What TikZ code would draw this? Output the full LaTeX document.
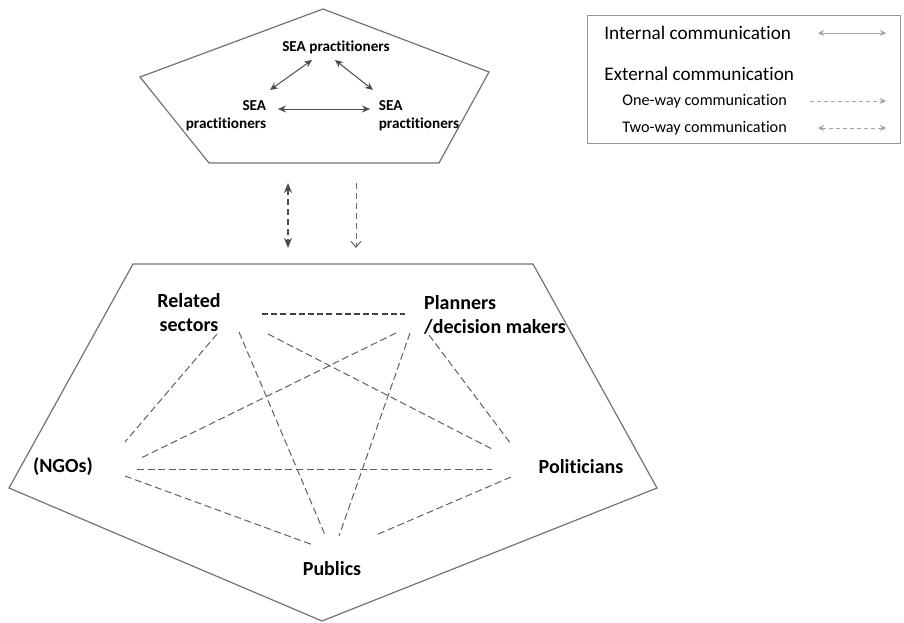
\documentclass[tikz,border=0pt]{standalone}
\usepackage{fontspec}
\setmainfont{Carlito}[Ligatures=NoCommon]
\usepackage{tikz}
\usetikzlibrary{arrows.meta}

\definecolor{edgegray}{RGB}{95,95,95}
\definecolor{framegray}{RGB}{115,115,115}
\definecolor{keygray}{RGB}{165,165,165}

\tikzset{
  frame/.style={draw=framegray, line width=0.6pt},
  actor/.style={font=\fontsize{10}{12}\selectfont\bfseries, inner sep=0pt, align=center},
  seanode/.style={font=\fontsize{7.6}{9}\selectfont\bfseries, inner sep=0pt},
  keytext/.style={font=\fontsize{9.6}{12}\selectfont, inner sep=0pt, anchor=west},
  subtext/.style={font=\fontsize{8.1}{10}\selectfont, inner sep=0pt, anchor=west},
  link/.style={draw=edgegray, line width=0.5pt, dash pattern=on 3.5pt off 1.8pt},
  intarrow/.style={draw=black!70, line width=0.5pt,
    {Stealth[length=4pt,width=3.5pt]}-{Stealth[length=4pt,width=3.5pt]}},
  keyarrow/.style={draw=keygray, line width=0.5pt}
}

\begin{document}
\begin{tikzpicture}[x=0.5pt, y=-0.5pt]
    \useasboundingbox (0,0) rectangle (904,622);

    % draw the two pentagons
    \draw[frame] (323,9) -- (489,72) -- (439,163) -- (209,163) -- (140,77) -- cycle;
    \draw[frame] (133,264) -- (533,264) -- (657,488) -- (322,621) -- (9,488) -- cycle;

    % SEA practitioners in the upper pentagon
    \node[seanode] (seatop) at (336,47) {SEA practitioners};
    \node[seanode, align=right] (sealeft) at (226,116) {SEA\\practitioners};
    \node[seanode, align=left] (searight) at (419,116) {SEA\\practitioners};

    \draw[intarrow] ([shift={(-24,13)}]seatop.center) -- ([shift={(44,-26)}]sealeft.center);
    \draw[intarrow] ([shift={(-1,13)}]seatop.center) -- ([shift={(-46,-26)}]searight.center);
    \draw[intarrow] ([shift={(52,-7)}]sealeft.center) -- ([shift={(-49,-7)}]searight.center);

    % communication between the two groups
    \coordinate (upa) at (288,183);
    \coordinate (downa) at (288,248);
    \coordinate (upb) at (356,183);
    \coordinate (downb) at (356,248);
    \draw[draw=black!70, line width=0.6pt, dash pattern=on 3pt off 2pt,
      {Stealth[length=5pt,width=4pt]}-{Stealth[length=5pt,width=4pt]}] (upa) -- (downa);
    \draw[draw=black!60, line width=0.5pt, dash pattern=on 3pt off 2pt,
      -{Straight Barb[length=3pt,width=5pt]}] (upb) -- (downb);

    % actors in the lower pentagon
    \node[actor] (rel) at (189,313) {Related\\sectors};
    \node[actor, align=left] (plan) at (495,315) {Planners\\/decision makers};
    \node[actor] (ngo) at (63,467) {(NGOs)};
    \node[actor] (pol) at (581,467) {Politicians};
    \node[actor] (pub) at (332,569) {Publics};

    \draw[link, draw=black!75, line width=0.7pt, dash pattern=on 3pt off 1.6pt]
      ([shift={(73,1)}]rel.center) -- ([shift={(-90,-1)}]plan.center);
    \draw[link] ([shift={(28,21)}]rel.center) -- ([shift={(62,-25)}]ngo.center);
    \draw[link] ([shift={(50,19)}]rel.center) -- ([shift={(-7,-34)}]pub.center);
    \draw[link] ([shift={(79,21)}]rel.center) -- ([shift={(-89,-18)}]pol.center);
    \draw[link] ([shift={(-99,18)}]plan.center) -- ([shift={(76,-8)}]ngo.center);
    \draw[link] ([shift={(-85,18)}]plan.center) -- ([shift={(7,-33)}]pub.center);
    \draw[link] ([shift={(-66,20)}]plan.center) -- ([shift={(-70,-23)}]pol.center);
    \draw[link] ([shift={(74,2)}]ngo.center) -- ([shift={(-89,2)}]pol.center);
    \draw[link] ([shift={(62,9)}]ngo.center) -- ([shift={(-19,-24)}]pub.center);
    \draw[link] ([shift={(-70,10)}]pol.center) -- ([shift={(44,-34)}]pub.center);

    % legend
    \draw[draw=black!40, line width=0.5pt] (587,15) rectangle (900,143);
    \node[keytext] (kint) at (604,33) {Internal communication};
    \node[keytext] (kext) at (604,74) {External communication};
    \node[subtext] (kone) at (622,101) {One-way communication};
    \node[subtext] (ktwo) at (622,128) {Two-way communication};

    \coordinate (ia) at (818,33);
    \coordinate (ib) at (886,33);
    \coordinate (oa) at (810,101);
    \coordinate (ob) at (886,101);
    \coordinate (ta) at (818,128);
    \coordinate (tb) at (886,128);
    \draw[keyarrow, {Stealth[length=3pt,width=3pt]}-{Stealth[length=3pt,width=3pt]}] (ia) -- (ib);
    \draw[keyarrow, dash pattern=on 2pt off 1.5pt, -{Stealth[length=3pt,width=3pt]}] (oa) -- (ob);
    \draw[keyarrow, dash pattern=on 2pt off 1.5pt,
      {Stealth[length=3pt,width=3pt]}-{Stealth[length=3pt,width=3pt]}] (ta) -- (tb);

\end{tikzpicture}
\end{document}
